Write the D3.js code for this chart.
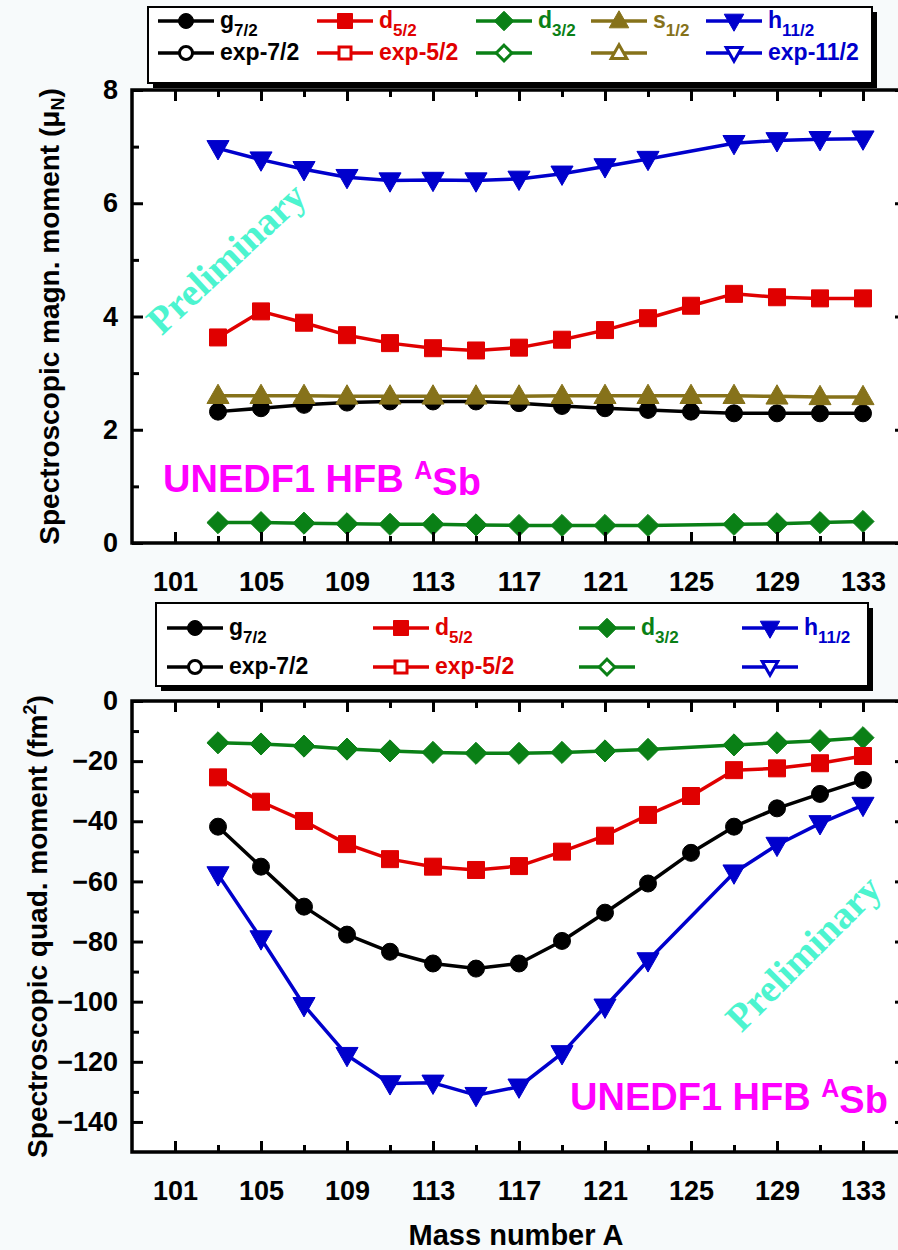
<!DOCTYPE html>
<html><head><meta charset="utf-8">
<script src="https://cdn.jsdelivr.net/npm/d3@7"></script>
<style>
body{margin:0;background:#f7fafb}
svg{display:block}
text{font-family:"Liberation Sans",Arial,Helvetica,sans-serif;font-weight:bold}
</style>
</head><body>
<svg id="chart" width="898" height="1250"></svg>
<script>
// Mass numbers of the antimony isotopes
const massNumbers = [103,105,107,109,111,113,115,117,119,121,123,125,127,129,131,133];

// Spectroscopic magnetic moments (mu_N)
const magG72  = [2.32,2.38,2.44,2.48,2.50,2.50,2.50,2.47,2.42,2.38,2.35,2.32,2.29,2.29,2.29,2.29];
const magD52  = [3.63,4.09,3.89,3.67,3.53,3.44,3.40,3.45,3.59,3.76,3.97,4.19,4.40,4.34,4.32,4.32];
const magD32  = [0.36,0.36,0.35,0.34,0.33,0.33,0.32,0.31,0.31,0.31,0.31,null,0.33,0.34,0.36,0.38];
const magS12  = [2.60,2.60,2.60,2.59,2.59,2.59,2.59,2.59,2.60,2.60,2.60,2.60,2.60,2.59,2.58,2.58];
const magH112 = [6.97,6.77,6.60,6.46,6.40,6.41,6.40,6.43,6.52,6.65,6.78,null,7.06,7.11,7.13,7.14];

// Spectroscopic quadrupole moments (fm^2)
const quadG72  = [-41.8,-55.1,-68.4,-77.7,-83.4,-87.3,-89.0,-87.3,-79.8,-70.4,-60.7,-50.5,-41.8,-35.7,-30.9,-26.3];
const quadD52  = [-25.4,-33.5,-39.9,-47.6,-52.6,-55.1,-56.2,-54.9,-50.1,-44.8,-37.9,-31.6,-23.0,-22.4,-20.7,-18.3];
const quadD32  = [-13.9,-14.3,-15.0,-16.0,-16.6,-17.1,-17.4,-17.4,-17.1,-16.6,-16.1,null,-14.6,-13.9,-13.2,-12.2];
const quadH112 = [-57.7,-79.0,-101.2,-117.8,-127.2,-127.0,-131.1,-128.3,-117.2,-101.7,-86.3,null,-57.1,-47.9,-40.7,-34.6];

// Axis ticks
const xMajorTicks = [101,105,109,113,117,121,125,129,133];
const xMinorTicks = [103,107,111,115,119,123,127,131];
const magMajorTicks = [0,2,4,6,8];
const magMinorTicks = [1,3,5,7];
const quadMajorTicks = [0,-20,-40,-60,-80,-100,-120,-140];
const quadMinorTicks = [-10,-30,-50,-70,-90,-110,-130];

const colors = {g72:"#000000", d52:"#e00000", d32:"#0a8016", s12:"#86721a", h112:"#0000cc"};
const magenta = "#ff00ff";
const prelimColor = "#4cf4cf";

const svg = d3.select("#chart");

const x = d3.scaleLinear().domain([99,135]).range([132,906]);

function markerPath(shape, s) {
  switch (shape) {
    case "square": return `M${-s},${-s}H${s}V${s}H${-s}Z`;
    case "diamond": { const d = s*1.3; return `M0,${-d}L${d},0L0,${d}L${-d},0Z`; }
    case "triUp": { const w = s*1.3; return `M0,${-w*1.05}L${w},${w*0.7}L${-w},${w*0.7}Z`; }
    case "triDown": { const w = s*1.3; return `M0,${w*1.05}L${w},${-w*0.7}L${-w},${-w*0.7}Z`; }
  }
}

function drawMarker(g, cx, cy, shape, color, filled, s) {
  const fill = filled ? color : "#ffffff";
  const sw = filled ? 1 : 3;
  if (shape === "circle") {
    g.append("circle").attr("cx",cx).attr("cy",cy).attr("r", filled ? s : s-1)
      .attr("fill",fill).attr("stroke",color).attr("stroke-width",sw);
  } else {
    const ss = filled ? s : s-1.5;
    g.append("path").attr("d", markerPath(shape, ss)).attr("transform",`translate(${cx},${cy})`)
      .attr("fill",fill).attr("stroke",color).attr("stroke-width",sw).attr("stroke-linejoin","miter");
  }
}

function drawPanel(cfg) {
  const y = d3.scaleLinear().domain(cfg.domain).range([cfg.bottom, cfg.top]);
  const g = svg.append("g");
  // plot area
  g.append("rect").attr("x",x.range()[0]).attr("y",cfg.top)
    .attr("width",x.range()[1]-x.range()[0]).attr("height",cfg.bottom-cfg.top).attr("fill","#ffffff");

  // series lines and markers
  cfg.series.forEach(s => {
    const pts = massNumbers.map((m,i)=>[m,s.values[i]]).filter(p=>p[1]!==null);
    const line = d3.line().x(p=>x(p[0])).y(p=>y(p[1]));
    g.append("path").attr("d",line(pts)).attr("fill","none")
      .attr("stroke",s.color).attr("stroke-width",3.5).attr("stroke-linejoin","round");
    pts.forEach(p => drawMarker(g, x(p[0]), y(p[1]), s.shape, s.color, true, s.size));
  });

  // axes with inward ticks
  const styleAxis = sel => {
    sel.selectAll(".domain").remove();
    sel.selectAll(".tick line").attr("stroke","#000").attr("stroke-width",3);
    sel.selectAll(".tick text").attr("fill","#000").style("font-size","27px")
      .style("font-family","'Liberation Sans',Arial,sans-serif").style("font-weight","bold");
  };
  g.append("g").attr("transform",`translate(0,${cfg.bottom})`)
    .call(d3.axisBottom(x).tickValues(xMajorTicks).tickSize(-11).tickPadding(29).tickFormat(d3.format("d")))
    .call(styleAxis);
  g.append("g").attr("transform",`translate(0,${cfg.bottom})`)
    .call(d3.axisBottom(x).tickValues(xMinorTicks).tickSize(-7).tickFormat(""))
    .call(styleAxis);
  g.append("g").attr("transform",`translate(0,${cfg.top})`)
    .call(d3.axisTop(x).tickValues(xMajorTicks).tickSize(-11).tickFormat(""))
    .call(styleAxis);
  g.append("g").attr("transform",`translate(0,${cfg.top})`)
    .call(d3.axisTop(x).tickValues(xMinorTicks).tickSize(-7).tickFormat(""))
    .call(styleAxis);
  g.append("g").attr("transform",`translate(${x.range()[0]},0)`)
    .call(d3.axisLeft(y).tickValues(cfg.majorTicks).tickSize(-11).tickPadding(14).tickFormat(d3.format("d")))
    .call(styleAxis);
  g.append("g").attr("transform",`translate(${x.range()[0]},0)`)
    .call(d3.axisLeft(y).tickValues(cfg.minorTicks).tickSize(-7).tickFormat(""))
    .call(styleAxis);
  g.append("g").attr("transform",`translate(${x.range()[1]},0)`)
    .call(d3.axisRight(y).tickValues(cfg.majorTicks).tickSize(-11).tickFormat(""))
    .call(styleAxis);
  g.append("g").attr("transform",`translate(${x.range()[1]},0)`)
    .call(d3.axisRight(y).tickValues(cfg.minorTicks).tickSize(-7).tickFormat(""))
    .call(styleAxis);

  // frame
  g.append("rect").attr("x",x.range()[0]).attr("y",cfg.top)
    .attr("width",x.range()[1]-x.range()[0]).attr("height",cfg.bottom-cfg.top)
    .attr("fill","none").attr("stroke","#000").attr("stroke-width",3.5);

  // y title
  const yt = g.append("text").attr("transform",`translate(${cfg.titleX},${(cfg.top+cfg.bottom)/2}) rotate(-90)`)
    .attr("text-anchor","middle").style("font-size","28px").attr("fill","#000");
  yt.append("tspan").text(cfg.titleMain);
  yt.append("tspan").text(cfg.titleScript).attr("dy", cfg.scriptDy).style("font-size","18px");
  yt.append("tspan").text(")").attr("dy", -cfg.scriptDy);

  // model label
  const lab = g.append("text").attr("x",cfg.labelX).attr("y",cfg.labelY).attr("fill",magenta).style("font-size","38px");
  lab.append("tspan").text("UNEDF1 HFB ");
  lab.append("tspan").text("A").attr("dy",-13).style("font-size","25px");
  lab.append("tspan").text("Sb").attr("dy",16);

  // preliminary stamp
  g.append("text").attr("transform",`translate(${cfg.prelimX},${cfg.prelimY}) rotate(${cfg.prelimAngle})`)
    .attr("text-anchor","middle").attr("dominant-baseline","central")
    .style("font-family","'Liberation Serif','Times New Roman',serif").style("font-weight","bold")
    .style("font-size","39px").attr("fill",prelimColor).text("Preliminary");

  return y;
}

drawPanel({
  domain:[0,8], top:90, bottom:543,
  majorTicks: magMajorTicks, minorTicks: magMinorTicks,
  titleX: 59, titleMain:"Spectroscopic magn. moment (\u03bc", titleScript:"N", scriptDy:5,
  labelX:163, labelY:492,
  prelimX:226, prelimY:258, prelimAngle:-43,
  series:[
    {values:magD32, color:colors.d32, shape:"diamond", size:8.5},
    {values:magG72, color:colors.g72, shape:"circle", size:8.5},
    {values:magS12, color:colors.s12, shape:"triUp", size:8.5},
    {values:magD52, color:colors.d52, shape:"square", size:8.5},
    {values:magH112, color:colors.h112, shape:"triDown", size:8.5}
  ]
});

drawPanel({
  domain:[-150,0], top:701, bottom:1152,
  majorTicks: quadMajorTicks, minorTicks: quadMinorTicks,
  titleX: 47, titleMain:"Spectroscopic quad. moment (fm", titleScript:"2", scriptDy:-11,
  labelX:570, labelY:1110,
  prelimX:803, prelimY:953, prelimAngle:-45,
  series:[
    {values:quadD32, color:colors.d32, shape:"diamond", size:8.5},
    {values:quadD52, color:colors.d52, shape:"square", size:8.5},
    {values:quadG72, color:colors.g72, shape:"circle", size:8.5},
    {values:quadH112, color:colors.h112, shape:"triDown", size:8.5}
  ]
});

// x-axis title
svg.append("text").attr("x",516).attr("y",1245).attr("text-anchor","middle")
  .style("font-size","29px").attr("fill","#000").text("Mass number A");

// legends
function drawLegend(box, entries) {
  const g = svg.append("g");
  g.append("rect").attr("x",box.x+5).attr("y",box.y+5).attr("width",box.w).attr("height",box.h).attr("fill","#000");
  g.append("rect").attr("x",box.x).attr("y",box.y).attr("width",box.w).attr("height",box.h)
    .attr("fill","#fff").attr("stroke","#000").attr("stroke-width",2);
  entries.forEach(e => {
    g.append("line").attr("x1",e.x).attr("x2",e.x+56).attr("y1",e.y).attr("y2",e.y)
      .attr("stroke",e.color).attr("stroke-width",3.5);
    drawMarker(g, e.x+28, e.y, e.shape, e.color, e.filled, 7.5);
    if (e.label) {
      const t = g.append("text").attr("x",e.x+62).attr("y",e.y+7).attr("fill",e.color).style("font-size","23px");
      t.append("tspan").text(e.label);
      if (e.sub) t.append("tspan").text(e.sub).attr("dy",8).style("font-size","17px");
    }
  });
}

const topCols = [158,317,476,591,706];
const topRows = [21,53];
drawLegend({x:148,y:7,w:724,h:76}, [
  {x:topCols[0],y:topRows[0],color:colors.g72,shape:"circle",filled:true,label:"g",sub:"7/2"},
  {x:topCols[1],y:topRows[0],color:colors.d52,shape:"square",filled:true,label:"d",sub:"5/2"},
  {x:topCols[2],y:topRows[0],color:colors.d32,shape:"diamond",filled:true,label:"d",sub:"3/2"},
  {x:topCols[3],y:topRows[0],color:colors.s12,shape:"triUp",filled:true,label:"s",sub:"1/2"},
  {x:topCols[4],y:topRows[0],color:colors.h112,shape:"triDown",filled:true,label:"h",sub:"11/2"},
  {x:topCols[0],y:topRows[1],color:colors.g72,shape:"circle",filled:false,label:"exp-7/2"},
  {x:topCols[1],y:topRows[1],color:colors.d52,shape:"square",filled:false,label:"exp-5/2"},
  {x:topCols[2],y:topRows[1],color:colors.d32,shape:"diamond",filled:false},
  {x:topCols[3],y:topRows[1],color:colors.s12,shape:"triUp",filled:false},
  {x:topCols[4],y:topRows[1],color:colors.h112,shape:"triDown",filled:false,label:"exp-11/2"}
]);

const botCols = [167,373,579,742];
const botRows = [628,667];
drawLegend({x:156,y:603,w:712,h:83}, [
  {x:botCols[0],y:botRows[0],color:colors.g72,shape:"circle",filled:true,label:"g",sub:"7/2"},
  {x:botCols[1],y:botRows[0],color:colors.d52,shape:"square",filled:true,label:"d",sub:"5/2"},
  {x:botCols[2],y:botRows[0],color:colors.d32,shape:"diamond",filled:true,label:"d",sub:"3/2"},
  {x:botCols[3],y:botRows[0],color:colors.h112,shape:"triDown",filled:true,label:"h",sub:"11/2"},
  {x:botCols[0],y:botRows[1],color:colors.g72,shape:"circle",filled:false,label:"exp-7/2"},
  {x:botCols[1],y:botRows[1],color:colors.d52,shape:"square",filled:false,label:"exp-5/2"},
  {x:botCols[2],y:botRows[1],color:colors.d32,shape:"diamond",filled:false},
  {x:botCols[3],y:botRows[1],color:colors.h112,shape:"triDown",filled:false}
]);
</script>
</body></html>
